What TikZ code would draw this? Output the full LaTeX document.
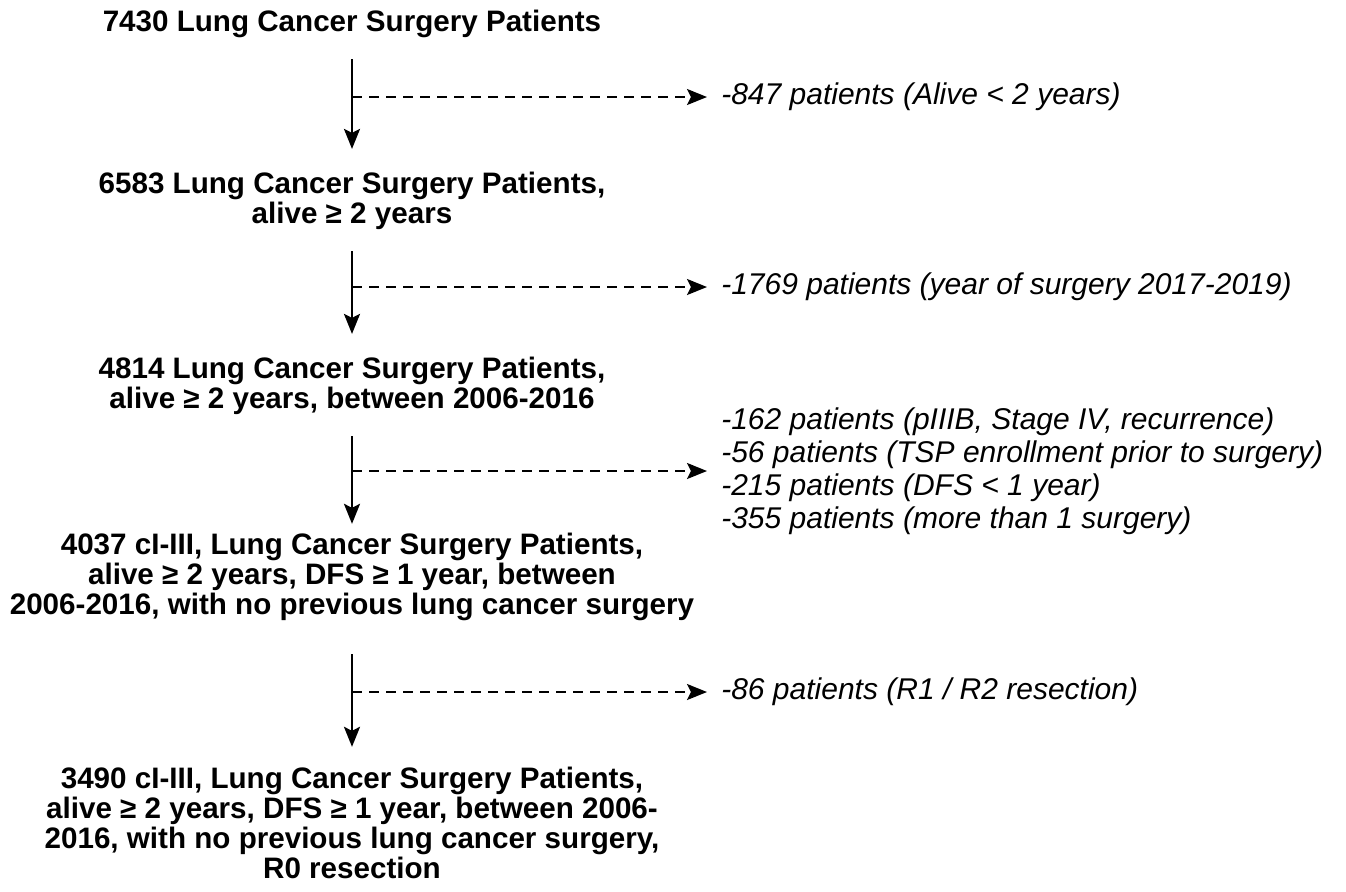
\documentclass[tikz,border=0pt]{standalone}
\usepackage{fontspec}
\setmainfont{Liberation Sans}
\usetikzlibrary{positioning, arrows.meta}

\begin{document}
\begin{tikzpicture}[x=0.5pt, y=-0.5pt, >={Stealth[length=10pt,width=8pt,inset=2pt]}, line width=1.3pt,
    stage/.style={align=center, inner sep=0pt, font=\fontsize{14.8}{15}\selectfont\bfseries},
    drop/.style={align=left, anchor=west, inner sep=0pt, font=\fontsize{15}{16.5}\selectfont\itshape},
    flow/.style={->, shorten <=10pt, shorten >=11pt},
    cut/.style={->, line width=1.1pt, dash pattern=on 5pt off 3.5pt, shorten >=6.5pt}]
    \useasboundingbox (0,0) rectangle (1346,891);

    \node[stage] (s_0) at (352,24) {7430 Lung Cancer Surgery Patients};
    \node[stage] (s_1) at (352,201) {6583 Lung Cancer Surgery Patients,\\ alive ≥ 2 years};
    \node[stage] (s_2) at (352,386) {4814 Lung Cancer Surgery Patients,\\ alive ≥ 2 years, between 2006-2016};
    \node[stage] (s_3) at (352,577) {4037 cI-III, Lung Cancer Surgery Patients,\\ alive ≥ 2 years, DFS ≥ 1 year, between\\ 2006-2016, with no previous lung cancer surgery};
    \node[stage] (s_4) at (352,823) {3490 cI-III, Lung Cancer Surgery Patients,\\ alive ≥ 2 years, DFS ≥ 1 year, between 2006-\\ 2016, with no previous lung cancer surgery,\\ R0 resection};

    \node[drop] (x_0) at (720,97) {-847 patients (Alive < 2 years)};
    \node[drop] (x_1) at (720,287) {-1769 patients (year of surgery 2017-2019)};
    \node[drop] (x_2) at (720,471) {-162 patients (pIIIB, Stage IV, recurrence)\\ -56 patients (TSP enrollment prior to surgery)\\ -215 patients (DFS < 1 year)\\ -355 patients (more than 1 surgery)};
    \node[drop] (x_3) at (720,692) {-86 patients (R1 / R2 resection)};

    \coordinate (j_0) at (352,97);
    \coordinate (j_1) at (352,287);
    \coordinate (j_2) at (352,471);
    \coordinate (j_3) at (352,692);

    \draw[flow] (s_0) -- (s_1);
    \draw[flow] (s_1) -- (s_2);
    \draw[flow, shorten >=4pt] (s_2) -- (s_3);
    \draw[flow, shorten <=16pt, shorten >=9.5pt] (s_3) -- (s_4);

    \draw[cut] (j_0) -- (x_0.west);
    \draw[cut] (j_1) -- (x_1.west);
    \draw[cut] (j_2) -- (j_2 -| x_2.west);
    \draw[cut] (j_3) -- (x_3.west);
\end{tikzpicture}
\end{document}
